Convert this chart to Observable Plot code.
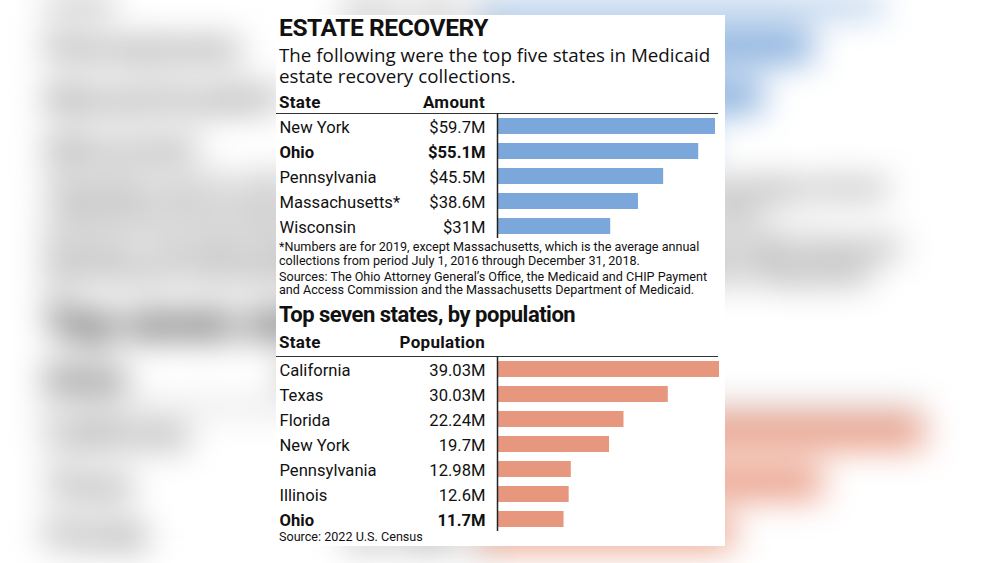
<!DOCTYPE html>
<html><head><meta charset="utf-8">
<script src="https://cdn.jsdelivr.net/npm/d3@7"></script>
<script src="https://cdn.jsdelivr.net/npm/@observablehq/plot@0.6"></script>
<style>
html,body{margin:0;padding:0;width:1000px;height:563px;overflow:hidden;background:#fff;font-family:Roboto,"Noto Sans",sans-serif;color:#111}
#bg{position:absolute;left:0;top:0;width:1000px;height:563px;filter:blur(17px);overflow:hidden}
#bg .panel{position:absolute;left:38px;top:-276px;transform:scale(2);transform-origin:0 0}
#fg .panel{position:absolute;left:276px;top:15px}
.panel{width:449px;height:531px;background:#fff}
.t{position:absolute;white-space:pre;line-height:1}
.title{left:3px;font-size:24.5px;font-weight:700;letter-spacing:-0.4px}
.sub{left:3px;font-family:"Open Sans",Roboto,sans-serif;font-size:18.8px;line-height:21px}
.hdr{font-size:17px;font-weight:700;letter-spacing:0.3px}
.note{left:3px;font-size:12.6px;line-height:13.5px}
.h2{left:3px;font-size:22px;font-weight:700;letter-spacing:-0.5px}
.rule{position:absolute;left:0;width:442px;height:0;border-top:1.5px solid #333}
.plot{position:absolute;left:0}
g[aria-label="value"] text{letter-spacing:-0.6px}
</style></head>
<body>
<div id="bg" aria-hidden="true"></div>
<div id="fg"></div>
<script>
// ---- data ----
const recoveryStates = ["New York", "Ohio", "Pennsylvania", "Massachusetts*", "Wisconsin"];
const recoveryAmounts = [59.7, 55.1, 45.5, 38.6, 31];
const recoveryLabels = ["$59.7M", "$55.1M", "$45.5M", "$38.6M", "$31M"];
const populationStates = ["California", "Texas", "Florida", "New York", "Pennsylvania", "Illinois", "Ohio"];
const populationValues = [39.03, 30.03, 22.24, 19.7, 12.98, 12.6, 11.7];
const populationLabels = ["39.03M", "30.03M", "22.24M", "19.7M", "12.98M", "12.6M", "11.7M"];
const highlightState = "Ohio";
const blue = "#7ba7da";
const salmon = "#e8977f";

function table(states, values, labels, color, marginRight) {
  const data = states.map((s, i) => ({state: s, value: values[i], label: labels[i], bold: s === highlightState}));
  const norm = data.filter(d => !d.bold), bold = data.filter(d => d.bold);
  const txt = (arr, key, dx, anchor, weight, name) => Plot.text(arr, {
    y: "state", text: key, frameAnchor: "left", dx, dy: 1, textAnchor: anchor,
    fontWeight: weight, fill: "#111", ariaLabel: name
  });
  return Plot.plot({
    width: 449, height: states.length * 25,
    marginLeft: 221, marginRight, marginTop: 0, marginBottom: 0,
    x: {domain: [0, d3.max(values)], axis: null},
    y: {domain: states, axis: null, paddingInner: 0.37, paddingOuter: 0.185},
    style: {fontFamily: "Roboto, 'Noto Sans', sans-serif", fontSize: "16.6px", background: "transparent", overflow: "visible"},
    marks: [
      Plot.barX(data, {x: "value", y: "state", fill: color}),
      Plot.ruleX([0], {stroke: "#222", strokeWidth: 1.5}),
      txt(norm, "state", -218, "start", "normal", "state"),
      txt(bold, "state", -218, "start", "bold", "state"),
      txt(norm, "label", -12, "end", "normal", "value"),
      txt(bold, "label", -12, "end", "bold", "value")
    ]
  });
}

function el(parent, cls, text, css) {
  const d = document.createElement("div");
  d.className = cls;
  if (text != null) d.textContent = text;
  Object.assign(d.style, css || {});
  parent.appendChild(d);
  return d;
}

function buildPanel(host) {
  const p = el(host, "panel");
  el(p, "t title", "ESTATE RECOVERY", {top: "1px"});
  el(p, "t sub", "The following were the top five states in Medicaid\nestate recovery collections.", {top: "30px"});
  el(p, "t hdr", "State", {left: "3px", top: "79px"});
  el(p, "t hdr", "Amount", {right: "240px", top: "79px"});
  el(p, "rule", null, {top: "98px"});
  const s1 = el(p, "plot", null, {top: "98px"});
  s1.appendChild(table(recoveryStates, recoveryAmounts, recoveryLabels, blue, 10));
  el(p, "t note", "*Numbers are for 2019, except Massachusetts, which is the average annual\ncollections from period July 1, 2016 through December 31, 2018.", {top: "225px"});
  el(p, "t note", "Sources: The Ohio Attorney General\u2019s Office, the Medicaid and CHIP Payment\nand Access Commission and the Massachusetts Department of Medicaid.", {top: "254.5px"});
  el(p, "t h2", "Top seven states, by population", {top: "289px"});
  el(p, "t hdr", "State", {left: "3px", top: "319px"});
  el(p, "t hdr", "Population", {right: "240px", top: "319px"});
  el(p, "rule", null, {top: "341px"});
  const s2 = el(p, "plot", null, {top: "341px"});
  s2.appendChild(table(populationStates, populationValues, populationLabels, salmon, 6));
  el(p, "t note", "Source: 2022 U.S. Census", {top: "514.5px"});
  return p;
}

// blurred, enlarged backdrop copy, then the crisp panel
buildPanel(document.getElementById("bg"));
buildPanel(document.getElementById("fg"));
</script>
</body></html>
